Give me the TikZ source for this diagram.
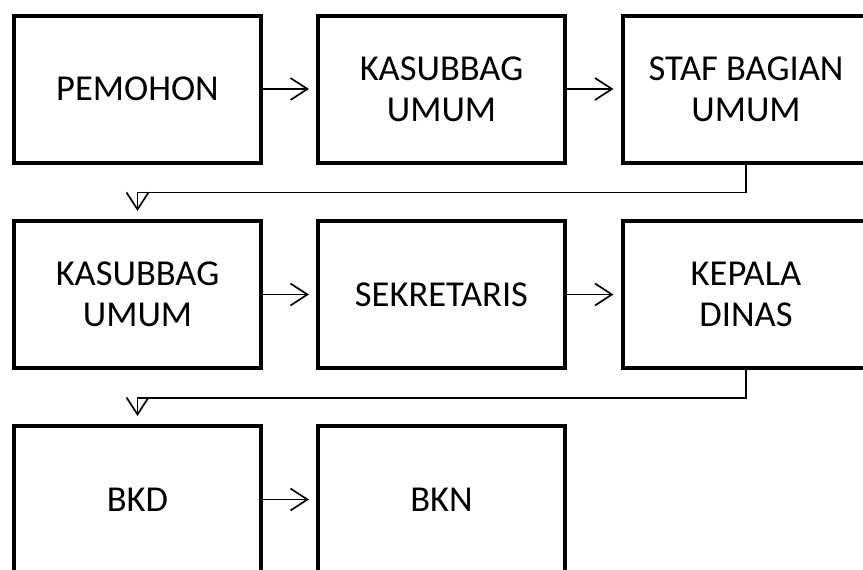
\documentclass[tikz,border=0pt]{standalone}
\usepackage{fontspec}
\setmainfont{Carlito}
\usetikzlibrary{arrows.meta}

\begin{document}
\begin{tikzpicture}[x=1pt,y=-1pt,
    kotak/.style={draw, line width=4pt, minimum width=247pt, minimum height=147pt, inner sep=0pt, align=center, font=\fontsize{36.5}{41}\selectfont},
    panah/.style={-{Straight Barb[length=17pt,width=22pt]}, line width=1.7pt}]
        \useasboundingbox (0,0) rectangle (863,570);
        \node[kotak](pemohon) at (137.5,89)  {PEMOHON};                 % baris 1
        \node[kotak](kasubbag1) at (441.5,89)  {KASUBBAG\\UMUM};
        \node[kotak](staf) at (746,89)  {STAF BAGIAN\\UMUM};
        \node[kotak](kasubbag2) at (137.5,294.5)  {KASUBBAG\\UMUM};       % baris 2
        \node[kotak](sekretaris) at (441.5,294.5)  {SEKRETARIS};
        \node[kotak](kepala) at (746,294.5)  {KEPALA\\DINAS};
        \node[kotak](bkd) at (137.5,499.5)  {BKD};                       % baris 3
        \node[kotak](bkn) at (441.5,499.5)  {BKN};

        \draw[panah, shorten >=7pt] (pemohon.east) -- (kasubbag1.west);
        \draw[panah, shorten >=7pt] (kasubbag1.east) -- (staf.west);
        \draw[panah, shorten >=8pt] (staf.south) -- ++(0,28) -| (kasubbag2.north);
        \draw[panah, shorten >=7pt] (kasubbag2.east) -- (sekretaris.west);
        \draw[panah, shorten >=7pt] (sekretaris.east) -- (kepala.west);
        \draw[panah, shorten >=8pt] (kepala.south) -- ++(0,28) -| (bkd.north);
        \draw[panah, shorten >=7pt] (bkd.east) -- (bkn.west);

    \end{tikzpicture}
\end{document}
